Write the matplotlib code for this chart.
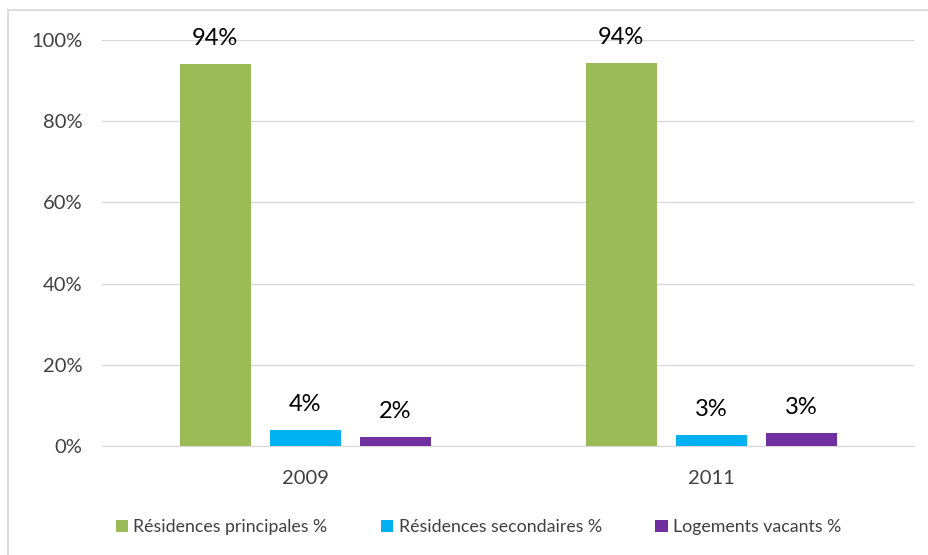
import matplotlib.pyplot as plt
import numpy as np
from matplotlib.patches import Rectangle
from matplotlib.ticker import PercentFormatter

years = ['2009', '2011']
series = ['Résidences principales %', 'Résidences secondaires %', 'Logements vacants %']
principales = [0.941, 0.943]
secondaires = [0.039, 0.027]
vacants = [0.022, 0.032]
colors = ['#9bbb59', '#00b0f0', '#7030a0']

plt.rcParams['font.family'] = ['Lato', 'DejaVu Sans']

fig = plt.figure(figsize=(9.29, 5.55), dpi=100)
ax = fig.add_axes([0.110, 0.196, 0.874, 0.732])

# light frame round the chart area
fig.patches.append(Rectangle((8 / 929, -0.05), 1.1, 1 - 10 / 555 + 0.05,
                             transform=fig.transFigure, fill=False,
                             edgecolor='#d9d9d9', linewidth=1.3))

x = np.arange(len(years))
width = 0.175
offset = 0.222
for i, (vals, name) in enumerate(zip([principales, secondaires, vacants], series)):
    bars = ax.bar(x + (i - 1) * offset, vals, width, color=colors[i], label=name, zorder=3)
    for b, v in zip(bars, vals):
        ax.text(b.get_x() + b.get_width() / 2, v + 0.037, f'{round(v * 100):.0f}%',
                ha='center', va='bottom', fontsize=17, color='black')

ax.set_xlim(-0.5, 1.5)
ax.set_ylim(0, 1)
ax.set_yticks(np.arange(0, 1.01, 0.2))
ax.yaxis.set_major_formatter(PercentFormatter(1.0, decimals=0))
ax.set_xticks(x)
ax.set_xticklabels(years)
ax.tick_params(axis='both', length=0, labelsize=14.5, labelcolor='#404040')
ax.tick_params(axis='y', pad=14)
ax.tick_params(axis='x', pad=17)
ax.grid(axis='y', color='#d9d9d9', linewidth=1, zorder=0)
for s in ['top', 'right', 'left']:
    ax.spines[s].set_visible(False)
ax.spines['bottom'].set_color('#d9d9d9')

fig.legend(loc='center', bbox_to_anchor=(0.515, 1 - 527 / 555), ncol=3, frameon=False,
           fontsize=12.8, handlelength=0.7, handleheight=0.7, handletextpad=0.3,
           columnspacing=3.0, labelcolor='#404040')

fig.savefig('out.png', dpi=100)
